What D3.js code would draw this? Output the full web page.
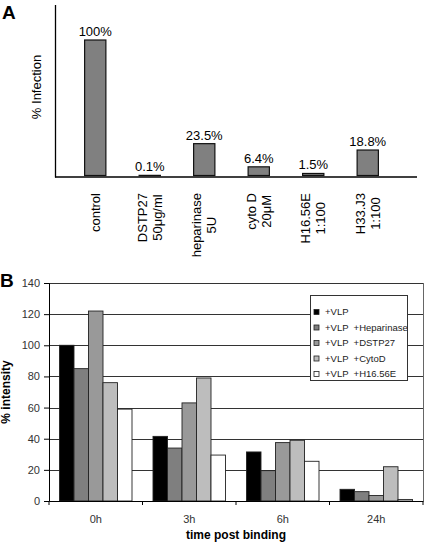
<!DOCTYPE html>
<html><head><meta charset="utf-8">
<script src="https://cdn.jsdelivr.net/npm/d3@7"></script>
<style>body{margin:0;background:#fff}svg{display:block;font-family:"Liberation Sans",Arial,sans-serif}</style>
</head><body><svg id="c" width="425" height="544"></svg>
<script>
// Panel A data
const catsA = [["control"],["DSTP27","50\u03bcg/ml"],["heparinase","5U"],["cyto D","20\u03bcM"],["H16.56E","1:100"],["H33.J3","1:100"]];
const valsA = [100, 0.1, 23.5, 6.4, 1.5, 18.8];
const labelsA = ["100%","0.1%","23.5%","6.4%","1.5%","18.8%"];
// Panel B data
const timesB = ["0h","3h","6h","24h"];
const seriesB = ["+VLP","+VLP  +Heparinase","+VLP  +DSTP27","+VLP  +CytoD","+VLP  +H16.56E"];
const vlp      = [100, 41.5, 31.5, 7.5];
const vlpHep   = [85, 34, 19.5, 6];
const vlpDstp  = [122, 63, 37.5, 3.5];
const vlpCyto  = [76, 79, 39, 22];
const vlpH16   = [59, 29.5, 25.5, 1];
const yTicksB  = [0,20,40,60,80,100,120,140];
const colorsB  = ["#000000","#7f7f7f","#999999","#bdbdbd","#ffffff"];

const svg = d3.select("#c");

// ---------- Panel A ----------
const gA = svg.append("g");
const xA = d3.scaleBand().domain(d3.range(catsA.length)).range([68, 395]).paddingInner(0.61).paddingOuter(0.305);
const yA = d3.scaleLinear().domain([0, 100]).range([175.5, 40]);
gA.append("text").text("A").attr("x", 2).attr("y", 19).attr("font-size", 19).attr("font-weight", "bold");
gA.selectAll("rect.a").data(valsA).join("rect").attr("class","a")
  .attr("x", (d,i)=>xA(i)).attr("width", xA.bandwidth())
  .attr("y", d=>yA(d)).attr("height", d=>Math.max(0.3, yA(0)-yA(d)))
  .attr("fill", "#808080").attr("stroke", "#111").attr("stroke-width", 1.2);
gA.selectAll("text.v").data(valsA).join("text").attr("class","v")
  .attr("x", (d,i)=>xA(i)+xA.bandwidth()/2).attr("y", d=>yA(d)-4)
  .attr("text-anchor","middle").attr("font-size", 13).text((d,i)=>labelsA[i]);
gA.append("line").attr("x1",55.5).attr("x2",55.5).attr("y1",5).attr("y2",177.5).attr("stroke","#000").attr("stroke-width",1.3);
gA.append("line").attr("x1",55).attr("x2",417).attr("y1",177).attr("y2",177).attr("stroke","#000").attr("stroke-width",1.5);
gA.append("text").text("% Infection").attr("transform","translate(41,87) rotate(-90)").attr("text-anchor","middle").attr("font-size",13);
catsA.forEach((lines,i)=>{
  const cx = xA(i)+xA.bandwidth()/2;
  const n = lines.length;
  const g = gA.append("g");
  const ts = lines.map((l,j)=>g.append("text").text(l).attr("font-size",13).attr("text-anchor","middle")
    .attr("dy","0.35em"));
  const maxLen = d3.max(ts, t=>t.node().getComputedTextLength());
  const cy = 193 + maxLen/2;
  ts.forEach((t,j)=>{
    const off = (j-(n-1)/2)*15;
    t.attr("transform",`translate(${cx+off},${cy}) rotate(-90)`);
  });
});

// ---------- Panel B ----------
const gB = svg.append("g");
const dataB = [vlp, vlpHep, vlpDstp, vlpCyto, vlpH16];
const L = 49, R = 423, T = 283, Bt = 501;
const x0 = d3.scaleBand().domain(timesB).range([L, R]);
const x1 = d3.scaleBand().domain(d3.range(seriesB.length)).range([10.5, x0.bandwidth()-10.5]);
const yB = d3.scaleLinear().domain([0, 140]).range([Bt, T]);
gB.append("text").text("B").attr("x", 0).attr("y", 287).attr("font-size", 19).attr("font-weight", "bold");
// gridlines
gB.selectAll("line.g").data(yTicksB.filter(d=>d>0)).join("line").attr("class","g")
  .attr("x1",L).attr("x2",R).attr("y1",d=>Math.round(yB(d))+0.5).attr("y2",d=>Math.round(yB(d))+0.5)
  .attr("stroke","#333").attr("stroke-width",1);
gB.append("line").attr("x1",R+0.5).attr("x2",R+0.5).attr("y1",T).attr("y2",Bt).attr("stroke","#666");
// bars
timesB.forEach((t,i)=>{
  dataB.forEach((s,k)=>{
    gB.append("rect").attr("x", x0(t)+x1(k)).attr("width", x1.bandwidth())
      .attr("y", yB(s[i])).attr("height", yB(0)-yB(s[i]))
      .attr("fill", colorsB[k]).attr("stroke","#222").attr("stroke-width",0.9);
  });
});
// axes
const ay = gB.append("g").attr("transform",`translate(${L},0)`)
  .call(d3.axisLeft(yB).tickValues(yTicksB).tickSize(5).tickPadding(4));
ay.select(".domain").attr("stroke","#000");
ay.selectAll("text").attr("font-size",11).attr("fill","#333").attr("font-family","Liberation Sans, Arial, sans-serif");
const ax = gB.append("g").attr("transform",`translate(0,${Bt})`)
  .call(d3.axisBottom(x0).tickSize(0).tickPadding(14));
ax.select(".domain").attr("stroke","#000");
ax.selectAll("text").attr("font-size",11).attr("fill","#333").attr("font-family","Liberation Sans, Arial, sans-serif");
gB.selectAll("line.t").data(d3.range(timesB.length+1)).join("line").attr("class","t")
  .attr("x1",d=>L+d*x0.step()).attr("x2",d=>L+d*x0.step()).attr("y1",Bt).attr("y2",Bt+4).attr("stroke","#000");
gB.append("text").text("% intensity").attr("transform",`translate(10,${(T+Bt)/2}) rotate(-90)`)
  .attr("text-anchor","middle").attr("font-size",12).attr("font-weight","bold");
gB.append("text").text("time post binding").attr("x",(L+R)/2).attr("y",539)
  .attr("text-anchor","middle").attr("font-size",12).attr("font-weight","bold");
// legend
const lg = gB.append("g");
lg.append("rect").attr("x",310.5).attr("y",295.5).attr("width",97).attr("height",85).attr("fill","#fff").attr("stroke","#333");
seriesB.forEach((s,k)=>{
  const cy = 312 + k*15.5;
  lg.append("rect").attr("x",314).attr("y",cy-2.5).attr("width",5).attr("height",5)
    .attr("fill",colorsB[k]).attr("stroke","#222").attr("stroke-width",0.8);
  lg.append("text").text(s).attr("x",325).attr("y",cy).attr("dy","0.35em").attr("font-size",9.5)
    .attr("fill","#222").style("white-space","pre");
});
</script></body></html>
